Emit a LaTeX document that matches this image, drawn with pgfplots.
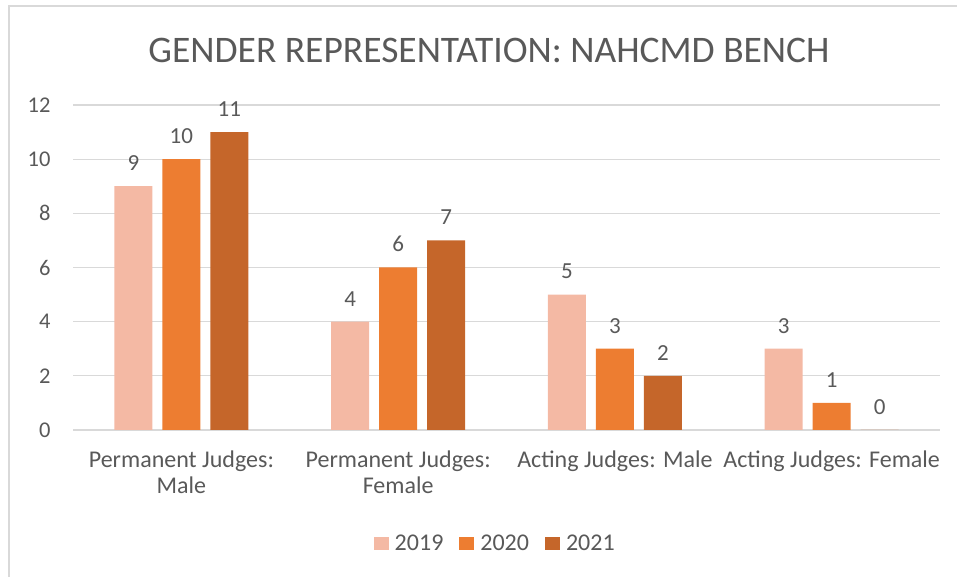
\documentclass[border=0pt]{standalone}
\usepackage{fontspec}
\setmainfont{Carlito}
\usepackage{pgfplots}
\pgfplotsset{compat=1.18}
\definecolor{c19}{HTML}{F4B9A4}
\definecolor{c20}{HTML}{ED7D31}
\definecolor{c21}{HTML}{C5662A}
\definecolor{txt}{HTML}{595959}
\definecolor{grd}{HTML}{D9D9D9}
\begin{document}
\begin{tikzpicture}
\path[use as bounding box] (0pt,0pt) rectangle (957pt,577pt);
\draw[color=grd, line width=1.5pt] (9pt,0pt) -- (9pt,571pt) -- (957pt,571pt);
\node[text=txt, font=\fontsize{37.5}{40}\selectfont] at (489pt,527pt) {GENDER REPRESENTATION: NAHCMD BENCH};
\begin{axis}[at={(73pt,147pt)}, anchor=south west, scale only axis,
  width=867pt, height=325pt,
  ybar=10pt, bar width=38pt,
  ymin=0, ymax=12, ytick={0,2,...,12},
  xmin=-0.5, xmax=3.5, xtick={0,1,2,3},
  xticklabels={Permanent Judges:\\Male, Permanent Judges:\\Female, Acting Judges: Male, Acting Judges: Female},
  xticklabel style={align=center, text=txt, font=\fontsize{24}{26}\selectfont, anchor=north, yshift=-13pt},
  yticklabel style={text=txt, font=\fontsize{22.5}{24}\selectfont, anchor=east, xshift=-19pt},
  /pgf/number format/assume math mode=true,
  axis line style={draw=none}, major tick style={draw=none},
  ymajorgrids, grid style={grd, line width=1.2pt},
  nodes near coords, every node near coord/.append style={text=txt, font=\fontsize{23}{24}\selectfont, yshift=12pt},
  legend style={at={(rel axis cs:0.487,-0.348)}, anchor=center, legend columns=3, draw=none, font=\fontsize{24}{26}\selectfont, text=txt,
    /tikz/every odd column/.append style={column sep=4pt},
    /tikz/every even column/.append style={column sep=14pt}},
  legend image code/.code={\fill[#1] (0pt,-6.5pt) rectangle (15pt,6.5pt);},
]
\addplot[fill=c19, draw=none] coordinates {(0,9) (1,4) (2,5) (3,3)};
\addplot[fill=c20, draw=none] coordinates {(0,10) (1,6) (2,3) (3,1)};
\addplot[fill=c21, draw=none] coordinates {(0,11) (1,7) (2,2) (3,0)};
\legend{2019,2020,2021}
\end{axis}
\end{tikzpicture}
\end{document}
